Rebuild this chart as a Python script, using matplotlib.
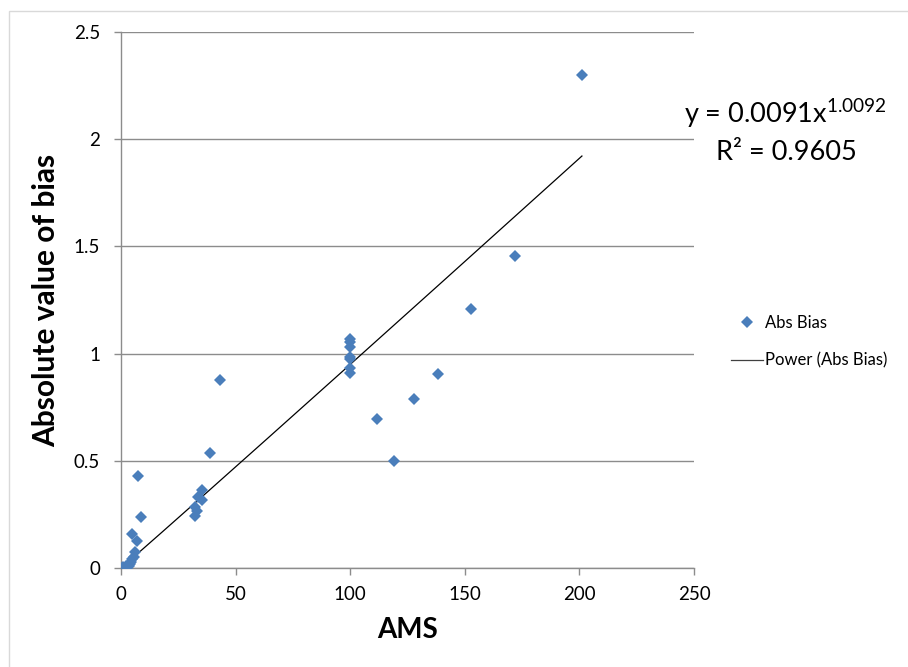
import numpy as np
import matplotlib
matplotlib.use("Agg")
import matplotlib.pyplot as plt
from matplotlib.patches import Rectangle
from matplotlib.lines import Line2D

plt.rcParams['font.family'] = ['Lato', 'DejaVu Sans']

# Data
ams = [0.3, 1.0, 2.0, 3.0, 3.5, 4.0, 4.5, 5.0, 5.5, 6.0,
       7.0, 4.8, 8.7, 7.4,
       32.3, 33.3, 32.3, 35.5, 33.7, 35.2, 38.8, 43.2,
       100, 100, 100, 100, 100, 100, 100,
       111.7, 119.1, 127.8, 138.3, 152.7, 171.9, 201.1]
abs_bias = [0.002, 0.006, 0.010, 0.015, 0.008, 0.020, 0.030, 0.040, 0.050, 0.075,
            0.126, 0.159, 0.238, 0.429,
            0.243, 0.266, 0.286, 0.317, 0.333, 0.364, 0.536, 0.877,
            1.068, 1.052, 1.030, 0.986, 0.973, 0.931, 0.911,
            0.695, 0.499, 0.788, 0.905, 1.208, 1.455, 2.30]
coef_a = 0.0091
coef_b = 1.0092
r2 = 0.9605
x_ticks = [0, 50, 100, 150, 200, 250]
y_ticks = [0, 0.5, 1, 1.5, 2, 2.5]
y_tick_labels = ['0', '0.5', '1', '1.5', '2', '2.5']

W, H = 908, 667
fig = plt.figure(figsize=(W / 100, H / 100), dpi=100)
fig.patch.set_facecolor('white')

# chart border
fig.add_artist(Rectangle((9 / W, -0.01), 1.0, 1 - 11 / H + 0.01, transform=fig.transFigure,
                         fill=False, edgecolor='#d9d9d9', linewidth=1.0))

ax = fig.add_axes([121 / W, 1 - 568 / H, (694 - 121) / W, (568 - 32) / H])
grid_c = '#8c8c8c'

xs = np.linspace(min(ams), max(ams), 300)
ax.plot(xs, coef_a * xs ** coef_b, color='black', linewidth=0.9, zorder=2)
ax.plot(ams, abs_bias, linestyle='none', marker='D', markersize=6.3,
        markerfacecolor='#4A7EBB', markeredgewidth=0, zorder=3)

ax.set_xlim(0, 250)
ax.set_ylim(0, 2.5)
ax.set_xticks(x_ticks)
ax.set_yticks(y_ticks)
ax.set_yticklabels(y_tick_labels)
ax.yaxis.grid(True, color=grid_c, linewidth=1.0)
ax.set_axisbelow(True)
for s in ['top', 'right']:
    ax.spines[s].set_visible(False)
for s in ['left', 'bottom']:
    ax.spines[s].set_color(grid_c)
    ax.spines[s].set_linewidth(1.0)
ax.tick_params(axis='both', direction='out', length=5, width=1.0, color=grid_c,
               labelsize=13.5, labelcolor='black')
ax.tick_params(axis='x', pad=8)
ax.tick_params(axis='y', pad=10)

ax.set_xlabel('AMS', fontsize=20, fontweight='bold', labelpad=10)
ax.set_ylabel('Absolute value of bias', fontsize=21.5, fontweight='bold', labelpad=10)

# trendline equation
fig.text(785 / W, 1 - 113 / H, r'y = 0.0091x$^{\mathregular{1.0092}}$', fontsize=19.5,
         ha='center', va='center')
fig.text(786 / W, 1 - 152 / H, 'R² = 0.9605', fontsize=19.5, ha='center', va='center')

# legend
handles = [Line2D([], [], linestyle='none', marker='D', markersize=6.3,
                  markerfacecolor='#4A7EBB', markeredgewidth=0),
           Line2D([], [], color='#404040', linewidth=0.9)]
leg = fig.legend(handles, ['Abs Bias', 'Power (Abs Bias)'], loc='center left',
                 bbox_to_anchor=(723 / W, 1 - 342 / H), frameon=False, fontsize=12,
                 handlelength=1.9, handletextpad=0.1, labelspacing=1.3, borderpad=0)

fig.savefig('out.png', dpi=100)
